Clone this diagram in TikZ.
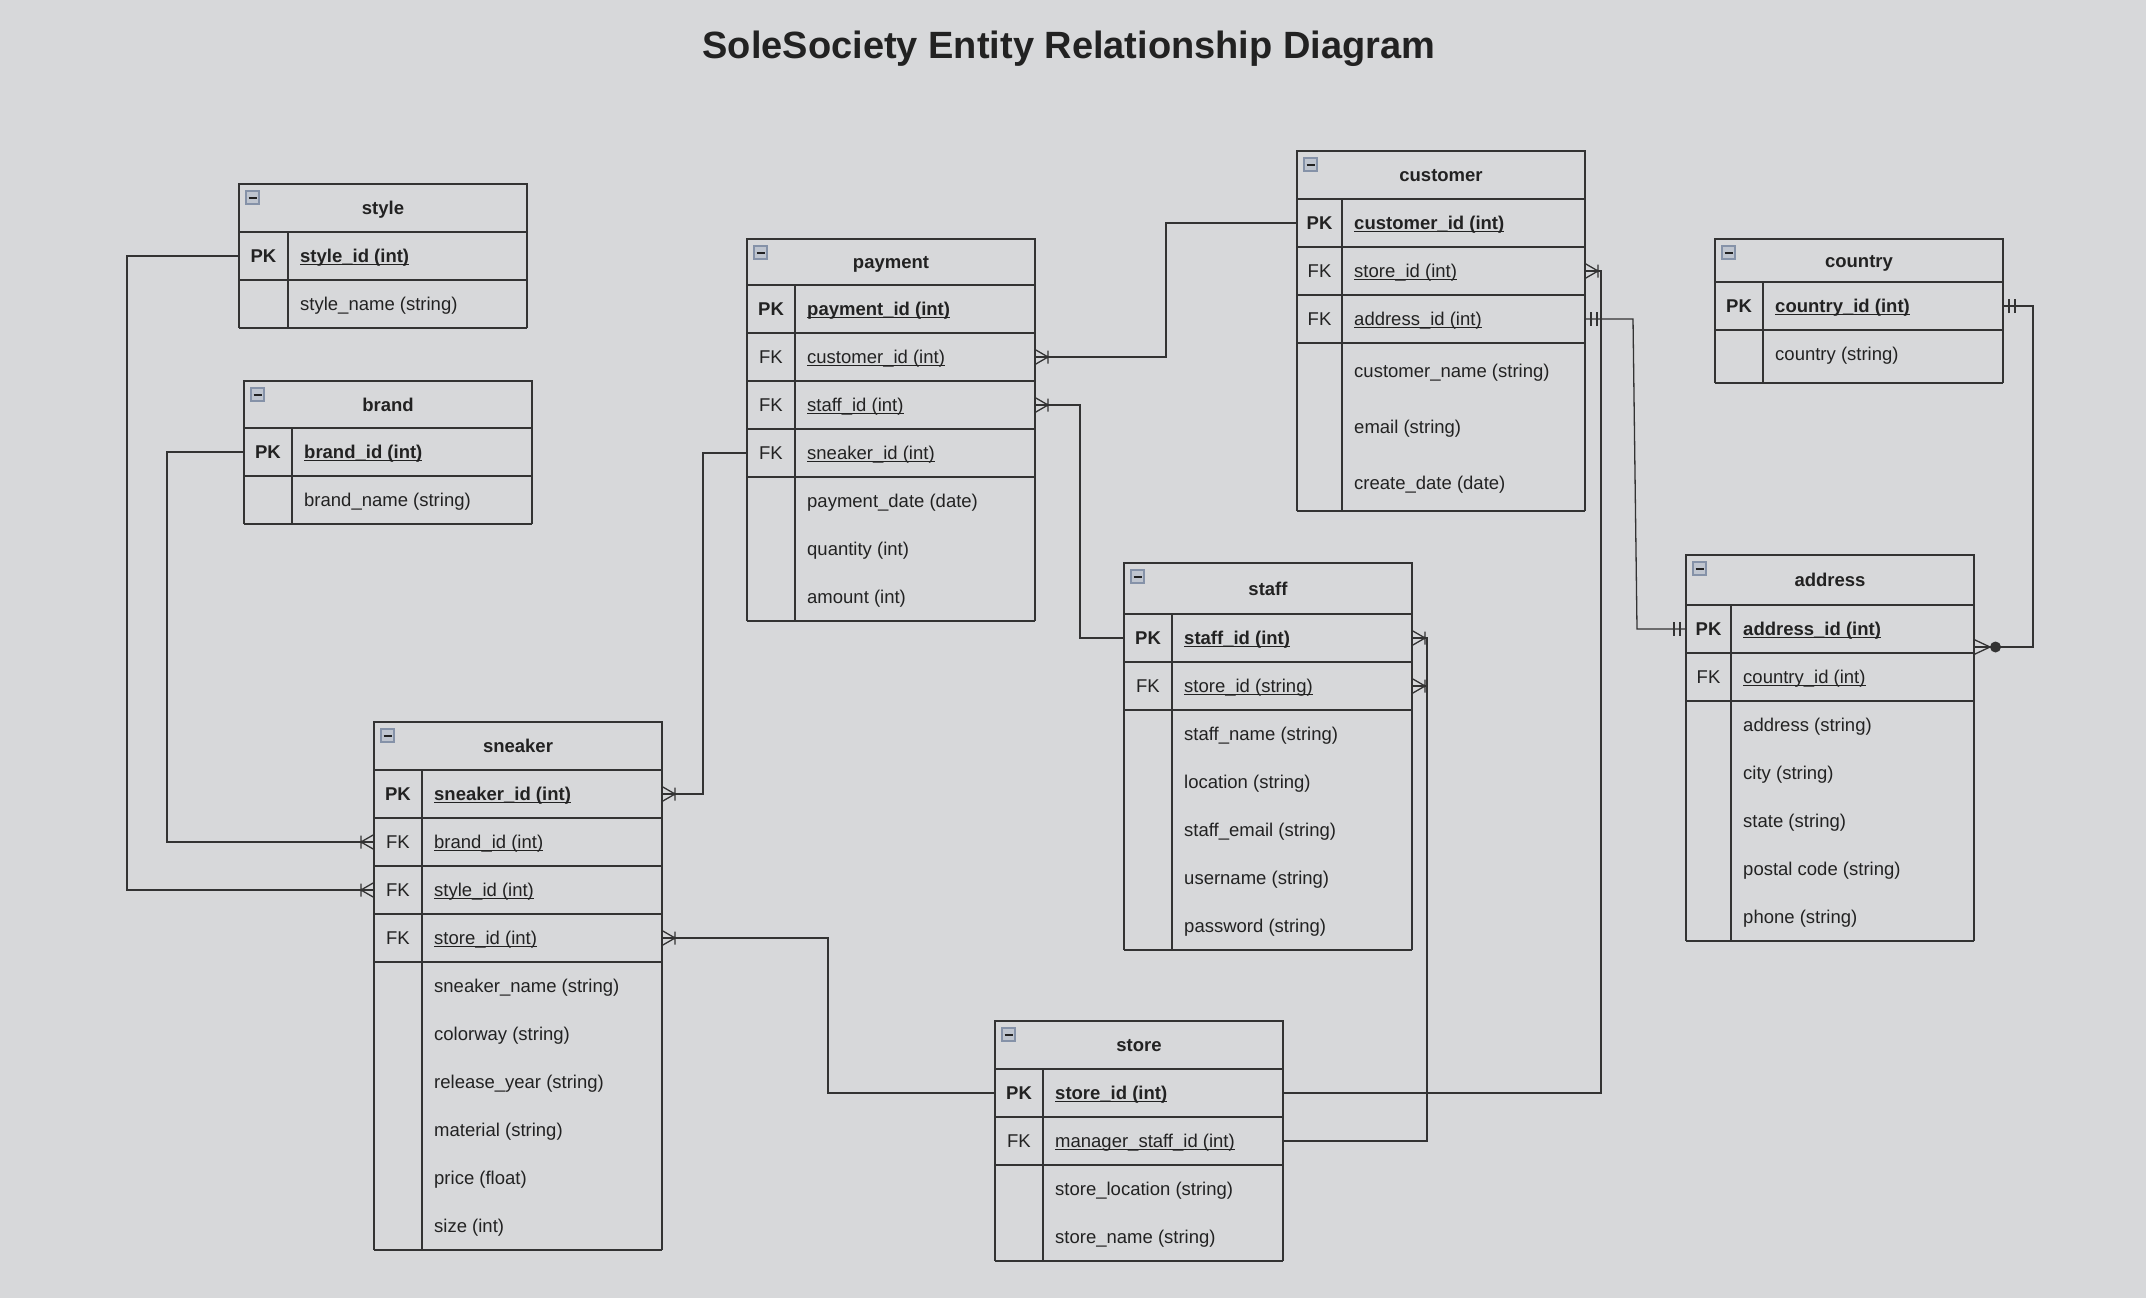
\documentclass[tikz,border=0pt]{standalone}
\usepackage{fontspec}
\setmainfont{Liberation Sans}
\usepackage{tikz}

\definecolor{bgc}{HTML}{D7D8DA}
\definecolor{linec}{HTML}{333333}
\definecolor{txtc}{HTML}{222222}
\definecolor{iconfill}{HTML}{BFC5CF}
\definecolor{icondraw}{HTML}{8592A8}

\newcommand{\erfont}{\fontsize{18.5}{22}\selectfont}
\newsavebox{\keybox}
\newcommand{\fkey}[1]{\sbox{\keybox}{#1}\rlap{\vrule height -1.4pt depth 2.5pt width \wd\keybox}\usebox{\keybox}}
\newcommand{\pkey}[1]{\textbf{\fkey{#1}}}
\newcommand{\PK}{\textbf{PK}}

% crow's foot, one or many
\pgfdeclarearrow{
  name = erMany,
  setup code = {
    \pgfarrowssettipend{0pt}
    \pgfarrowssetlineend{0pt}
    \pgfarrowssetbackend{-14pt}
  },
  drawing code = {
    \pgfsetroundjoin
    \pgfpathmoveto{\pgfqpoint{0pt}{7.5pt}}
    \pgfpathlineto{\pgfqpoint{-13pt}{0pt}}
    \pgfpathlineto{\pgfqpoint{0pt}{-7.5pt}}
    \pgfpathmoveto{\pgfqpoint{-13pt}{6.5pt}}
    \pgfpathlineto{\pgfqpoint{-13pt}{-6.5pt}}
    \pgfusepathqstroke
  }
}
% one and only one
\pgfdeclarearrow{
  name = erOne,
  setup code = {
    \pgfarrowssettipend{0pt}
    \pgfarrowssetlineend{0pt}
    \pgfarrowssetbackend{-13pt}
  },
  drawing code = {
    \pgfpathmoveto{\pgfqpoint{-6pt}{7pt}}
    \pgfpathlineto{\pgfqpoint{-6pt}{-7pt}}
    \pgfpathmoveto{\pgfqpoint{-12pt}{7pt}}
    \pgfpathlineto{\pgfqpoint{-12pt}{-7pt}}
    \pgfusepathqstroke
  }
}
% zero or many
\pgfdeclarearrow{
  name = erZeroMany,
  setup code = {
    \pgfarrowssettipend{0pt}
    \pgfarrowssetlineend{0pt}
    \pgfarrowssetbackend{-27pt}
  },
  drawing code = {
    \pgfsetroundjoin
    \pgfpathmoveto{\pgfqpoint{0pt}{7.5pt}}
    \pgfpathlineto{\pgfqpoint{-16pt}{0pt}}
    \pgfpathlineto{\pgfqpoint{0pt}{-7.5pt}}
    \pgfusepathqstroke
    \pgfsetfillcolor{linec}
    \pgfpathcircle{\pgfqpoint{-21.5pt}{0pt}}{5.5pt}
    \pgfusepathqfill
  }
}

\tikzset{
  frame/.style={draw=linec, line width=1.4pt},
  hdr/.style={frame, minimum width=288pt, inner sep=0pt, outer sep=0pt,
    anchor=north west, font=\erfont\bfseries, text height=15pt, text depth=2pt},
  rowbox/.style={minimum width=288pt, inner sep=0pt, outer sep=0pt, anchor=north west},
  keytext/.style={inner sep=0pt, font=\erfont, text height=15pt, text depth=2pt},
  fieldtext/.style={keytext, anchor=west},
  rowline/.style={},
  noline/.style={draw=none},
  icon/.style={fill=iconfill, draw=icondraw, line width=1.2pt},
  link/.style={draw=linec, line width=1.3pt},
  every node/.style={text=txtc}
}

% name, x, y, header height, key width, title, rows
\newcommand{\ertable}[7]{%
  \node[hdr, minimum height=#4pt] (#1-0) at (#2,#3) {#6};
  \draw[icon] ([xshift=7pt,yshift=-7pt]#1-0.north west) rectangle ++(13,13);
  \draw[draw=txtc, line width=2pt] ([xshift=9.5pt,yshift=-13.5pt]#1-0.north west) -- ++(8,0);
  \foreach \h/\k/\t/\s [count=\i] in {#7} {
    \pgfmathtruncatemacro{\j}{\i-1}
    \node[rowbox, minimum height=\h pt] (#1-\i) at (#1-\j.south west) {};
    \node[keytext] (#1-\i-k) at ([xshift=#5*0.5pt]#1-\i.west) {\k};
    \node[fieldtext] (#1-\i-f) at ([xshift=#5pt+12pt]#1-\i.west) {\t};
    \draw[frame] (#1-\i.north west) -- (#1-\i.south west)
                 (#1-\i.north east) -- (#1-\i.south east)
                 ([xshift=#5pt]#1-\i.north west) -- ([xshift=#5pt]#1-\i.south west);
    \draw[frame, \s] (#1-\i.south west) -- (#1-\i.south east);
  }
}

\begin{document}
\begin{tikzpicture}[x=1pt, y=-1pt]
\fill[bgc] (0,0) rectangle (2146,1298);
\useasboundingbox (0,0) rectangle (2146,1298);

\node[anchor=base, font=\fontsize{38}{44}\selectfont\bfseries] (title) at (1069,59)
  {SoleSociety Entity Relationship Diagram};

% tables
\ertable{style}{239}{184}{48}{49}{style}{%
  48/\PK/\pkey{style\_id (int)}/rowline,
  48//style\_name (string)/rowline}
\ertable{brand}{244}{381}{47}{48}{brand}{%
  48/\PK/\pkey{brand\_id (int)}/rowline,
  48//brand\_name (string)/rowline}
\ertable{payment}{747}{239}{46}{48}{payment}{%
  48/\PK/\pkey{payment\_id (int)}/rowline,
  48/FK/\fkey{customer\_id (int)}/rowline,
  48/FK/\fkey{staff\_id (int)}/rowline,
  48/FK/\fkey{sneaker\_id (int)}/rowline,
  48//payment\_date (date)/noline,
  48//quantity (int)/noline,
  48//amount (int)/rowline}
\ertable{customer}{1297}{151}{48}{45}{customer}{%
  48/\PK/\pkey{customer\_id (int)}/rowline,
  48/FK/\fkey{store\_id (int)}/rowline,
  48/FK/\fkey{address\_id (int)}/rowline,
  56//customer\_name (string)/noline,
  56//email (string)/noline,
  56//create\_date (date)/rowline}
\ertable{country}{1715}{239}{43}{48}{country}{%
  48/\PK/\pkey{country\_id (int)}/rowline,
  48//country (string)/noline,
  5///rowline}
\ertable{address}{1686}{555}{50}{45}{address}{%
  48/\PK/\pkey{address\_id (int)}/rowline,
  48/FK/\fkey{country\_id (int)}/rowline,
  48//address (string)/noline,
  48//city (string)/noline,
  48//state (string)/noline,
  48//postal code (string)/noline,
  48//phone (string)/rowline}
\ertable{staff}{1124}{563}{51}{48}{staff}{%
  48/\PK/\pkey{staff\_id (int)}/rowline,
  48/FK/\fkey{store\_id (string)}/rowline,
  48//staff\_name (string)/noline,
  48//location (string)/noline,
  48//staff\_email (string)/noline,
  48//username (string)/noline,
  48//password (string)/rowline}
\ertable{sneaker}{374}{722}{48}{48}{sneaker}{%
  48/\PK/\pkey{sneaker\_id (int)}/rowline,
  48/FK/\fkey{brand\_id (int)}/rowline,
  48/FK/\fkey{style\_id (int)}/rowline,
  48/FK/\fkey{store\_id (int)}/rowline,
  48//sneaker\_name (string)/noline,
  48//colorway (string)/noline,
  48//release\_year (string)/noline,
  48//material (string)/noline,
  48//price (float)/noline,
  48//size (int)/rowline}
\ertable{store}{995}{1021}{48}{48}{store}{%
  48/\PK/\pkey{store\_id (int)}/rowline,
  48/FK/\fkey{manager\_staff\_id (int)}/rowline,
  48//store\_location (string)/noline,
  48//store\_name (string)/rowline}

% relationships
\draw[link, -erMany] (style-1.west) -- ++(-112,0) |- (sneaker-3.west);
\draw[link, -erMany] (brand-1.west) -- ++(-77,0) |- (sneaker-2.west);
\draw[link, erMany-] (sneaker-1.east) -- ++(41,0) |- (payment-4.west);
\draw[link, -erMany] (customer-1.west) -- ++(-131,0) |- (payment-2.east);
\draw[link, erMany-] (payment-3.east) -- ++(45,0) |- (staff-1.west);
\draw[link, erMany-] (sneaker-4.east) -- ++(166,0) |- (store-1.west);
\draw[link, -erMany] (store-1.east) -- ++(318,0) |- (customer-2.east);
\draw[link, erOne-erOne] (customer-3.east) -- ++(48,0) -- ++(4,310) -- (address-1.west);
\draw[link, erOne-erZeroMany] (country-1.east) -- ++(30,0) |- ([yshift=-18pt]address-1.east);
\draw[link, erMany-] (staff-1.east) -- ++(15,0) |- (store-2.east);
\draw[link, erMany-] (staff-2.east) -- ++(15,0);
\end{tikzpicture}
\end{document}
